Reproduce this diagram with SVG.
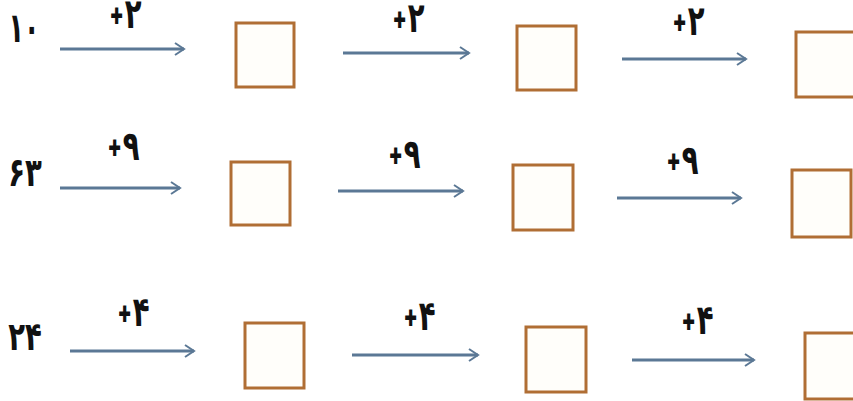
<svg xmlns="http://www.w3.org/2000/svg" width="853" height="401" viewBox="0 0 853 401">
<defs>
<marker id="ah" markerWidth="14" markerHeight="14" refX="11" refY="7" orient="auto" markerUnits="userSpaceOnUse">
<polyline points="2,1 11,7 2,13" fill="none" stroke="#5b7895" stroke-width="2"/>
</marker>
<style>
.box{fill:#fffefa;stroke:#b06e34;stroke-width:3}
.arr{stroke:#5b7895;stroke-width:3;fill:none;marker-end:url(#ah)}
.t{font-family:"DejaVu Sans Condensed","DejaVu Sans",sans-serif;font-weight:bold;font-size:36px;fill:#111}
.p{font-size:20px;stroke:#111;stroke-width:1.6}
</style>
</defs>
<rect width="853" height="401" fill="#ffffff"/>
<g id="connectors">
<line class="arr" x1="60" y1="49" x2="184" y2="49"/>
<line class="arr" x1="343" y1="53" x2="469" y2="53"/>
<line class="arr" x1="622" y1="59" x2="746" y2="59"/>
<line class="arr" x1="60" y1="188" x2="180" y2="188"/>
<line class="arr" x1="338" y1="191" x2="463" y2="191"/>
<line class="arr" x1="617" y1="198" x2="741" y2="198"/>
<line class="arr" x1="70" y1="351" x2="194" y2="351"/>
<line class="arr" x1="352" y1="355" x2="478" y2="355"/>
<line class="arr" x1="632" y1="360" x2="754" y2="360"/>
</g>
<g id="labels">
<text class="t" transform="translate(126,28) scale(0.85,1.15)" text-anchor="middle"><tspan class="p" dy="-4">+</tspan><tspan dy="4" dx="2">۲</tspan></text>
<text class="t" transform="translate(409,32) scale(0.85,1.15)" text-anchor="middle"><tspan class="p" dy="-4">+</tspan><tspan dy="4" dx="2">۲</tspan></text>
<text class="t" transform="translate(689,35) scale(0.85,1.15)" text-anchor="middle"><tspan class="p" dy="-4">+</tspan><tspan dy="4" dx="2">۲</tspan></text>
<text class="t" transform="translate(124,160) scale(0.85,1.15)" text-anchor="middle"><tspan class="p" dy="-4">+</tspan><tspan dy="4" dx="2">۹</tspan></text>
<text class="t" transform="translate(405,168) scale(0.85,1.15)" text-anchor="middle"><tspan class="p" dy="-4">+</tspan><tspan dy="4" dx="2">۹</tspan></text>
<text class="t" transform="translate(683,174) scale(0.85,1.15)" text-anchor="middle"><tspan class="p" dy="-4">+</tspan><tspan dy="4" dx="2">۹</tspan></text>
<text class="t" transform="translate(134,326) scale(0.85,1.15)" text-anchor="middle"><tspan class="p" dy="-4">+</tspan><tspan dy="4" dx="2">۴</tspan></text>
<text class="t" transform="translate(420,330) scale(0.85,1.15)" text-anchor="middle"><tspan class="p" dy="-4">+</tspan><tspan dy="4" dx="2">۴</tspan></text>
<text class="t" transform="translate(698,334) scale(0.85,1.15)" text-anchor="middle"><tspan class="p" dy="-4">+</tspan><tspan dy="4" dx="2">۴</tspan></text>
</g>
<g id="start1"><text class="t" transform="translate(24,42) scale(0.78,1.15)" text-anchor="middle">۱۰</text></g>
<g id="start2"><text class="t" transform="translate(25,186) scale(0.85,1.1)" text-anchor="middle">۶۳</text></g>
<g id="start3"><text class="t" transform="translate(25,350) scale(0.85,1.1)" text-anchor="middle">۲۴</text></g>
<g id="r1b1"><rect class="box" x="236" y="23" width="58" height="64"/></g>
<g id="r1b2"><rect class="box" x="517" y="26" width="59" height="64"/></g>
<g id="r1b3"><rect class="box" x="796" y="32" width="60" height="65"/></g>
<g id="r2b1"><rect class="box" x="231" y="162" width="59" height="63"/></g>
<g id="r2b2"><rect class="box" x="513" y="165" width="60" height="65"/></g>
<g id="r2b3"><rect class="box" x="792" y="170" width="59" height="67"/></g>
<g id="r3b1"><rect class="box" x="245" y="323" width="59" height="65"/></g>
<g id="r3b2"><rect class="box" x="526" y="327" width="60" height="65"/></g>
<g id="r3b3"><rect class="box" x="805" y="333" width="60" height="66"/></g>
</svg>
